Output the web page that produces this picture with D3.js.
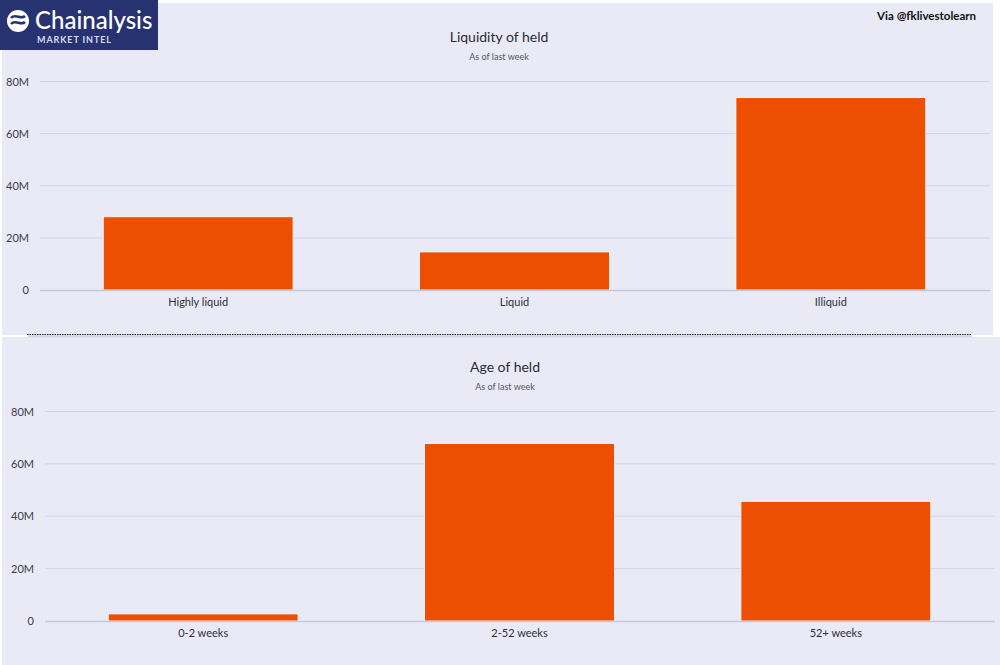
<!DOCTYPE html>
<html>
<head>
<meta charset="utf-8">
<script src="https://cdn.jsdelivr.net/npm/d3@7"></script>
<style>
    body { margin: 0; background: #ffffff; }
    svg { display: block; font-family: Lato, "Open Sans", sans-serif; }
</style>
</head>
<body>
<div id="chart"></div>
<script>
// DATA
var liquidityCats = ["Highly liquid", "Liquid", "Illiquid"];
var liquidityVals = [28.1e6, 14.6e6, 73.8e6];

var ageCats = ["0-2 weeks", "2-52 weeks", "52+ weeks"];
var ageVals = [2.7e6, 67.8e6, 45.7e6];

var yTicks = [0, 20e6, 40e6, 60e6, 80e6];

var W = 1000, H = 665;
var svg = d3.select("#chart").append("svg")
    .attr("width", W)
    .attr("height", H);

// Backgrounds
svg.append("rect").attr("x", 0).attr("y", 0).attr("width", W).attr("height", H).attr("fill", "#ffffff");
svg.append("rect").attr("x", 2).attr("y", 3).attr("width", 991).attr("height", 332).attr("fill", "#eaeaf6");
svg.append("rect").attr("x", 2).attr("y", 337).attr("width", 998).attr("height", 328).attr("fill", "#eaeaf6");

// Dotted separator with soft shadow
svg.append("line")
    .attr("x1", 28).attr("x2", 972).attr("y1", 336).attr("y2", 336)
    .attr("stroke", "#d8d8e6").attr("stroke-width", 3);
svg.append("line")
    .attr("x1", 27).attr("x2", 972).attr("y1", 334.5).attr("y2", 334.5)
    .attr("stroke", "#222").attr("stroke-width", 1.2)
    .attr("stroke-dasharray", "1.5,1");

function drawChart(cats, vals, opts) {
    var g = svg.append("g");

    var x = d3.scaleBand()
        .domain(cats)
        .range([opts.left, opts.right])
        .paddingInner(0.4)
        .paddingOuter(0.2);

    var y = d3.scaleLinear()
        .domain([0, 80e6])
        .range([opts.bottom, opts.top]);

    // Title
    g.append("text")
        .attr("x", opts.titleX).attr("y", opts.titleY)
        .attr("text-anchor", "middle")
        .attr("font-size", 14)
        .attr("fill", "#2a2a35")
        .text(opts.title);
    g.append("text")
        .attr("x", opts.titleX).attr("y", opts.titleY + 18)
        .attr("text-anchor", "middle")
        .attr("font-size", 9)
        .attr("fill", "#555560")
        .text("As of last week");

    // Gridlines
    g.append("g")
        .selectAll("line")
        .data(yTicks.slice(1))
        .join("line")
        .attr("x1", opts.gridLeft).attr("x2", opts.gridRight)
        .attr("y1", d => y(d)).attr("y2", d => y(d))
        .attr("stroke", "#d3d5e6").attr("stroke-width", 1);

    // Y axis labels
    var yAxis = d3.axisLeft(y)
        .tickValues(yTicks)
        .tickSize(0)
        .tickPadding(0)
        .tickFormat(d => d === 0 ? "0" : (d / 1e6) + "M");
    var ya = g.append("g")
        .attr("transform", "translate(" + opts.labelX + ",0)")
        .call(yAxis);
    ya.select(".domain").remove();
    ya.selectAll("text")
        .attr("font-size", 11)
        .attr("font-family", "Lato, 'Open Sans', sans-serif")
        .attr("fill", "#3a3a45");

    // Bars
    g.append("g")
        .selectAll("rect")
        .data(vals)
        .join("rect")
        .attr("x", (d, i) => x(cats[i]))
        .attr("width", x.bandwidth())
        .attr("y", d => y(d))
        .attr("height", d => opts.bottom - y(d))
        .attr("fill", "#ec4e02")
        .attr("stroke", "#ffffff")
        .attr("stroke-width", 0.8);

    // X axis
    var xa = g.append("g")
        .attr("transform", "translate(0," + opts.bottom + ")")
        .call(d3.axisBottom(x).tickSize(0).tickPadding(8));
    xa.select(".domain").remove();
    xa.selectAll("text")
        .attr("font-size", 11)
        .attr("font-family", "Lato, 'Open Sans', sans-serif")
        .attr("fill", "#2e2e38");

    g.append("line")
        .attr("x1", opts.gridLeft).attr("x2", opts.gridRight)
        .attr("y1", opts.bottom + 0.5).attr("y2", opts.bottom + 0.5)
        .attr("stroke", "#c3c9df").attr("stroke-width", 1.5);
}

drawChart(liquidityCats, liquidityVals, {
    title: "Liquidity of held", titleX: 499, titleY: 42,
    left: 40, right: 989, top: 81.5, bottom: 290,
    gridLeft: 40, gridRight: 990, labelX: 29
});

drawChart(ageCats, ageVals, {
    title: "Age of held", titleX: 505, titleY: 372,
    left: 45, right: 994, top: 411.5, bottom: 621,
    gridLeft: 45, gridRight: 995, labelX: 34
});

// Logo
var logo = svg.append("g");
logo.append("rect").attr("x", 0).attr("y", 0).attr("width", 158).attr("height", 50).attr("fill", "#273271");
var icon = logo.append("g").attr("transform", "translate(18,21)");
icon.append("circle").attr("r", 11).attr("fill", "#ffffff");
icon.append("path")
    .attr("d", "M-7,-3 C-3,-8 3,-1 7,-5 M-7,3 C-3,-2 3,5 7,1")
    .attr("fill", "none").attr("stroke", "#273271").attr("stroke-width", 2.6);
logo.append("text")
    .attr("x", 35).attr("y", 29)
    .attr("font-size", 24)
    .attr("font-weight", 500)
    .attr("fill", "#ffffff")
    .text("Chainalysis");
logo.append("text")
    .attr("x", 37).attr("y", 43)
    .attr("font-size", 9)
    .attr("font-weight", 700)
    .attr("letter-spacing", 0.9)
    .attr("fill", "#d8dcf0")
    .text("MARKET INTEL");

// Credit
svg.append("text")
    .attr("x", 976).attr("y", 20)
    .attr("text-anchor", "end")
    .attr("font-size", 11.5)
    .attr("font-weight", 700)
    .attr("fill", "#111")
    .text("Via @fklivestolearn");
</script>
</body>
</html>
